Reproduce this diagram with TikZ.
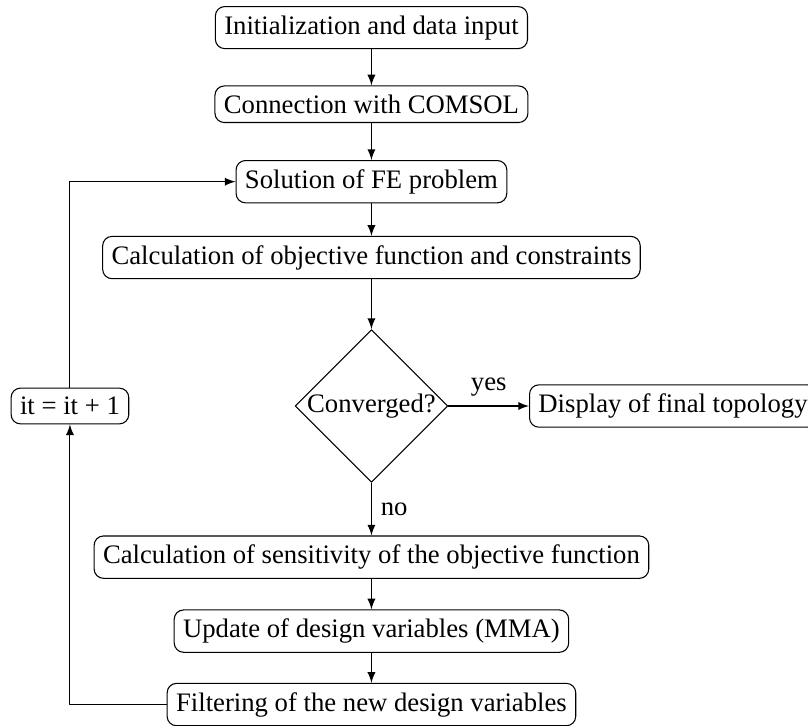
\documentclass[tikz,border=0pt]{standalone}
\usepackage{fontspec}
\setmainfont{Liberation Serif}
\usetikzlibrary{shapes.geometric}
\begin{document}
\begin{tikzpicture}[>=latex,line join=bevel,
  stepbox/.style={draw,rounded corners=3.5pt},
  decision/.style={draw,diamond,aspect=1,inner sep=0pt}]
\useasboundingbox (0bp,0bp) rectangle (301.5bp,270.9bp);
%%
  % Node: init
  \node [stepbox] (init) at (138.6bp,260.6bp) {Initialization and data input};
  % Node: comsol
  \node [stepbox] (comsol) at (138.6bp,232bp) {Connection with COMSOL};
  % Node: solve
  \node [stepbox] (solve) at (138.6bp,203.1bp) {Solution of FE problem};
  % Node: objective
  \node [stepbox] (objective) at (138.6bp,174.8bp) {Calculation of objective function and constraints};
  % Node: conv
  \node [decision] (conv) at (138.6bp,119.4bp) {Converged?};
  % Node: final
  \node [stepbox,anchor=west] (final) at (197.4bp,119.4bp) {Display of final topology};
  % Node: incr
  \node [stepbox] (incr) at (26.1bp,119.4bp) {it = it + 1};
  % Node: sens
  \node [stepbox] (sens) at (138.6bp,63bp) {Calculation of sensitivity of the objective function};
  % Node: update
  \node [stepbox] (update) at (138.6bp,35.4bp) {Update of design variables (MMA)};
  % Node: filter
  \node [stepbox] (filter) at (138.6bp,8bp) {Filtering of the new design variables};
%
  % Edge: init -> comsol
  \draw [->] (init) -- (comsol);
  % Edge: comsol -> solve
  \draw [->] (comsol) -- (solve);
  % Edge: solve -> objective
  \draw [->] (solve) -- (objective);
  % Edge: objective -> conv
  \draw [->] (objective) -- (conv);
  % Edge: conv -> final
  \draw [->] (conv) -- node [above] {yes} (final);
  % Edge: conv -> sens
  \draw [->] (conv) -- node [right] {no} (sens);
  % Edge: sens -> update
  \draw [->] (sens) -- (update);
  % Edge: update -> filter
  \draw [->] (update) -- (filter);
  % Edge: filter -> incr
  \draw [->] (filter) -| (incr);
  % Edge: incr -> solve
  \draw [->] (incr) |- (solve);
%
\end{tikzpicture}
\end{document}
